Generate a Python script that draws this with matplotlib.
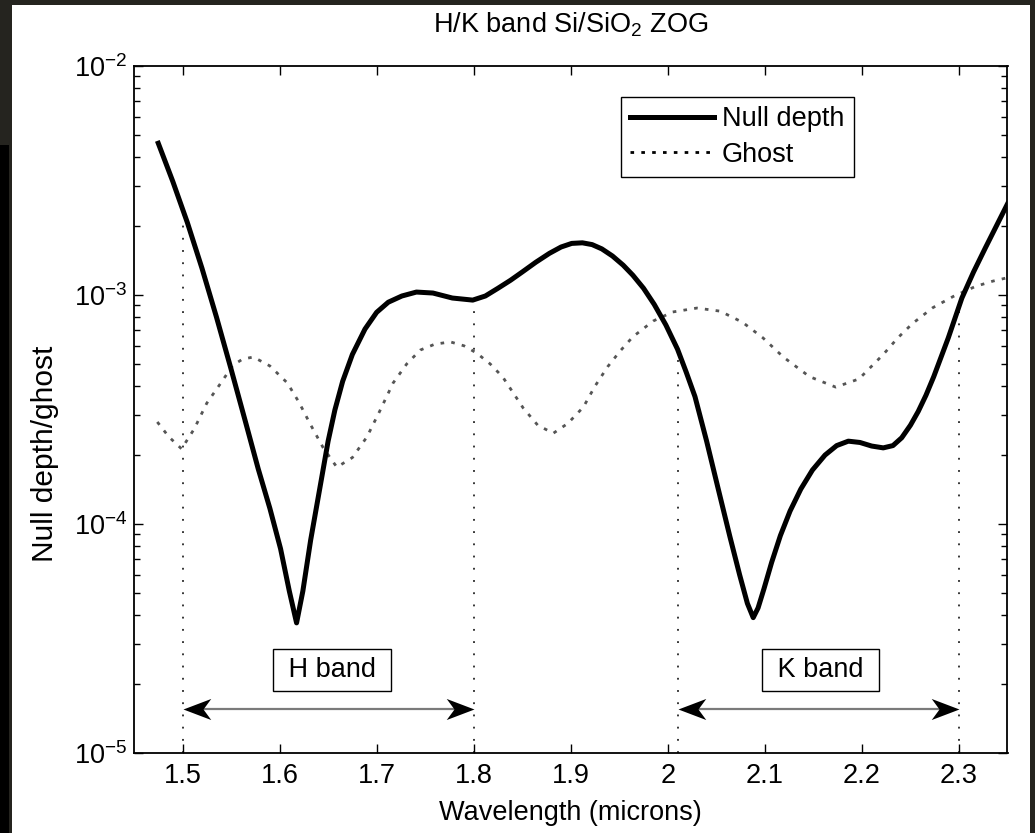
import numpy as np
import matplotlib
matplotlib.use('Agg')
import matplotlib.pyplot as plt
from matplotlib.path import Path
from matplotlib.patches import Rectangle
from matplotlib.lines import Line2D

plt.rcParams['font.family'] = ['Liberation Sans', 'DejaVu Sans']
plt.rcParams['mathtext.fontset'] = 'custom'
plt.rcParams['mathtext.rm'] = 'Liberation Sans'
plt.rcParams['mathtext.it'] = 'Liberation Sans'

# values (wavelength in microns)
null_wl = [1.475, 1.490, 1.505, 1.520, 1.535, 1.550, 1.565, 1.578, 1.590, 1.601,
           1.610, 1.6175, 1.624, 1.632, 1.643, 1.650, 1.657, 1.665, 1.675, 1.688,
           1.700, 1.712, 1.726, 1.741, 1.758, 1.778, 1.799, 1.812, 1.825, 1.838,
           1.850, 1.864, 1.878, 1.890, 1.901, 1.912, 1.922, 1.932, 1.943, 1.954,
           1.964, 1.975, 1.986, 1.998, 2.010, 2.019, 2.028, 2.040, 2.052, 2.064,
           2.074, 2.082, 2.088, 2.093, 2.099, 2.107, 2.116, 2.126, 2.137, 2.149,
           2.162, 2.174, 2.186, 2.198, 2.210, 2.222, 2.232, 2.241, 2.250, 2.258,
           2.266, 2.274, 2.289, 2.303, 2.315, 2.327, 2.339, 2.350]
null_depth = [4.6e-3, 3.13e-3, 2.07e-3, 1.31e-3, 8.0e-4, 4.75e-4, 2.78e-4, 1.74e-4, 1.17e-4, 7.8e-5,
              5.1e-5, 3.7e-5, 5.1e-5, 8.5e-5, 1.56e-4, 2.3e-4, 3.15e-4, 4.2e-4, 5.5e-4, 7.1e-4,
              8.4e-4, 9.3e-4, 9.9e-4, 1.03e-3, 1.02e-3, 9.7e-4, 9.5e-4, 9.9e-4, 1.07e-3, 1.16e-3,
              1.26e-3, 1.39e-3, 1.52e-3, 1.62e-3, 1.68e-3, 1.69e-3, 1.66e-3, 1.59e-3, 1.48e-3, 1.35e-3,
              1.22e-3, 1.07e-3, 9.1e-4, 7.4e-4, 5.8e-4, 4.6e-4, 3.6e-4, 2.3e-4, 1.42e-4, 8.8e-5,
              6.0e-5, 4.5e-5, 3.9e-5, 4.3e-5, 5.2e-5, 6.8e-5, 8.9e-5, 1.14e-4, 1.42e-4, 1.72e-4,
              2.0e-4, 2.2e-4, 2.3e-4, 2.27e-4, 2.19e-4, 2.15e-4, 2.2e-4, 2.38e-4, 2.7e-4, 3.1e-4,
              3.65e-4, 4.4e-4, 6.5e-4, 9.7e-4, 1.26e-3, 1.6e-3, 2.02e-3, 2.5e-3]

ghost_wl = [1.474, 1.486, 1.499, 1.512, 1.525, 1.539, 1.552, 1.562, 1.573, 1.590,
            1.608, 1.620, 1.631, 1.645, 1.659, 1.675, 1.690, 1.703, 1.717, 1.731,
            1.745, 1.760, 1.776, 1.790, 1.803, 1.817, 1.830, 1.851, 1.866, 1.882,
            1.897, 1.913, 1.925, 1.938, 1.951, 1.964, 1.985, 2.005, 2.030, 2.054,
            2.077, 2.098, 2.119, 2.146, 2.173, 2.197, 2.222, 2.237, 2.252, 2.273,
            2.294, 2.317, 2.335, 2.350]
ghost = [2.79e-4, 2.4e-4, 2.13e-4, 2.6e-4, 3.37e-4, 4.1e-4, 4.94e-4, 5.25e-4, 5.36e-4, 4.9e-4,
         4.13e-4, 3.4e-4, 2.76e-4, 2.15e-4, 1.77e-4, 1.95e-4, 2.4e-4, 3.1e-4, 4.13e-4, 5.0e-4,
         5.75e-4, 6.1e-4, 6.24e-4, 6.0e-4, 5.58e-4, 5.0e-4, 4.38e-4, 3.21e-4, 2.7e-4, 2.49e-4,
         2.75e-4, 3.24e-4, 4.0e-4, 4.86e-4, 5.7e-4, 6.57e-4, 7.7e-4, 8.43e-4, 8.77e-4, 8.5e-4,
         7.6e-4, 6.5e-4, 5.36e-4, 4.4e-4, 3.96e-4, 4.3e-4, 5.5e-4, 6.5e-4, 7.5e-4, 8.8e-4,
         9.85e-4, 1.09e-3, 1.15e-3, 1.19e-3]

bands = ['H band', 'K band']
band_lo = [1.5, 2.01]
band_hi = [1.8, 2.3]
band_text_x = [1.654, 2.157]
band_text_y = 2.3e-5
arrow_y = 1.56e-5

xticks = [1.5, 1.6, 1.7, 1.8, 1.9, 2.0, 2.1, 2.2, 2.3]
xtick_labels = ['1.5', '1.6', '1.7', '1.8', '1.9', '2', '2.1', '2.2', '2.3']

FS = 19.5

fig = plt.figure(figsize=(10.35, 8.33), dpi=100, facecolor='#25241f')
# white sheet of the slide, and the black strip on its left
fig.add_artist(Rectangle((12 / 1035, 0), 1018 / 1035, 828 / 833, transform=fig.transFigure,
                         facecolor='white', edgecolor='none', zorder=-5))
fig.add_artist(Rectangle((0, 0), 9 / 1035, 688 / 833, transform=fig.transFigure,
                         facecolor='black', edgecolor='none', zorder=-5))
ax = fig.add_axes([134 / 1035, 1 - 753 / 833, 873.5 / 1035, 687 / 833])

ax.plot(null_wl, null_depth, color='black', lw=3.6, solid_joinstyle='round', zorder=4)
ax.plot(ghost_wl, ghost, color='#555555', lw=2.0, dashes=(1.3, 2.6), zorder=3)

# band edges, dotted down from the null curve
log_null = np.log10(null_depth)
for lo, hi in zip(band_lo, band_hi):
    for xe in (lo, hi):
        top = 10 ** np.interp(xe, null_wl, log_null)
        ax.plot([xe, xe], [1e-5, top], color='black', lw=1.1, dashes=(1.2, 6.8), zorder=2)

# double arrows with notched heads
head_r = Path([(0, 0), (-1, 0.38), (-0.72, 0), (-1, -0.38), (0, 0)],
              [Path.MOVETO, Path.LINETO, Path.LINETO, Path.LINETO, Path.CLOSEPOLY])
head_l = Path([(-vx, vy) for vx, vy in head_r.vertices], head_r.codes)
for name, lo, hi, tx in zip(bands, band_lo, band_hi, band_text_x):
    ax.plot([lo + 0.01, hi - 0.01], [arrow_y, arrow_y], color='#7a7a7a', lw=1.6, zorder=5)
    ax.plot([lo], [arrow_y], marker=head_l, ms=40, color='black', mew=0, zorder=6)
    ax.plot([hi], [arrow_y], marker=head_r, ms=40, color='black', mew=0, zorder=6)
    ax.text(tx, band_text_y, ' ' + name + ' ', fontsize=FS, ha='center', va='center',
            bbox=dict(boxstyle='square,pad=0.3', facecolor='white', edgecolor='black', lw=1.0))

ax.set_yscale('log')
ax.set_xlim(1.45, 2.35)
ax.set_ylim(1e-5, 1e-2)
ax.set_xticks(xticks)
ax.set_xticklabels(xtick_labels)

ax.tick_params(which='both', direction='in', top=True, right=True, width=1.0, labelsize=FS)
ax.tick_params(which='major', length=6.5)
ax.tick_params(which='minor', length=4.5)
ax.tick_params(axis='x', pad=7)
ax.tick_params(axis='y', pad=5)
for sp in ax.spines.values():
    sp.set_linewidth(1.3)

ax.set_title('H/K band Si/SiO$_2$ ZOG', fontsize=FS, pad=24)
ax.set_xlabel('Wavelength (microns)', fontsize=FS, labelpad=8)
ax.set_ylabel('Null depth/ghost', fontsize=21.5)
ax.yaxis.set_label_coords(-0.086, 0.435)

handles = [Line2D([], [], color='black', lw=3.6),
           Line2D([], [], color='black', lw=2.0, dashes=(1.3, 2.6))]
leg = ax.legend(handles, ['Null depth', 'Ghost'], loc='upper left',
                bbox_to_anchor=(0.557, 0.955), fontsize=FS, fancybox=False,
                framealpha=1, edgecolor='black', borderpad=0.35, handlelength=3.1,
                handletextpad=0.3, labelspacing=0.35, borderaxespad=0)
leg.get_frame().set_linewidth(1.0)

fig.savefig('out.png', dpi=100, facecolor=fig.get_facecolor())
